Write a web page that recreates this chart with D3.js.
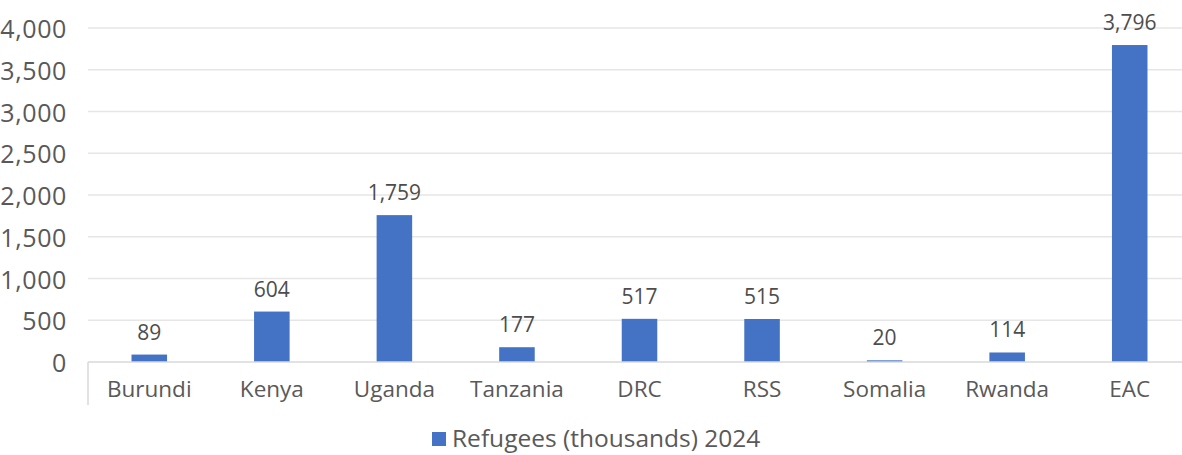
<!DOCTYPE html>
<html><head><meta charset="utf-8">
<script src="https://cdn.jsdelivr.net/npm/d3@7"></script>
<style>body{margin:0;background:#fff;}svg{display:block;font-family:"Open Sans",sans-serif;}</style>
</head><body>
<svg id="c" width="1182" height="455"></svg>
<script>
const categories = ["Burundi","Kenya","Uganda","Tanzania","DRC","RSS","Somalia","Rwanda","EAC"];
const values = [89,604,1759,177,517,515,20,114,3796];
const yTicks = [0,500,1000,1500,2000,2500,3000,3500,4000];
const seriesName = "Refugees (thousands) 2024";

(function(){
const svg = d3.select("#c");
const mLeft = 88, mRight = 1191, mTop = 28, mBottom = 362;
const x = d3.scaleBand().domain(categories).range([mLeft, mRight]).paddingInner(0.71).paddingOuter(0.355);
const y = d3.scaleLinear().domain([0,4000]).range([mBottom, mTop]);
const fmt = d3.format(",");

// gridlines
svg.append("g").selectAll("line").data(yTicks.filter(d=>d>0)).join("line")
  .attr("x1", mLeft).attr("x2", mRight)
  .attr("y1", d=>y(d)).attr("y2", d=>y(d))
  .attr("stroke", "#e6e6e6").attr("stroke-width", 1.3);

// y labels
const yAxis = d3.axisLeft(y).tickValues(yTicks).tickFormat(fmt).tickSize(0).tickPadding(0);
const ya = svg.append("g").attr("transform", `translate(67,0)`).call(yAxis);
ya.select(".domain").remove();
ya.selectAll("text").attr("fill","#595959").style("font-size","25px").style("font-family","'Open Sans',sans-serif").attr("dy","0.38em").attr("letter-spacing","0.6px");

// bars
svg.append("g").selectAll("rect").data(values).join("rect")
  .attr("x", (d,i)=>x(categories[i]))
  .attr("width", x.bandwidth())
  .attr("y", d=>y(d))
  .attr("height", d=>mBottom - y(d))
  .attr("fill", "#4472C4");

// data labels
svg.append("g").selectAll("text").data(values).join("text")
  .attr("x", (d,i)=>x(categories[i]) + x.bandwidth()/2)
  .attr("y", d=>y(d) - 15)
  .attr("text-anchor","middle")
  .attr("fill","#4d4d4d")
  .style("font-size","21px")
  .text(d=>fmt(d));

// x axis
const xAxis = d3.axisBottom(x).tickSize(0).tickPadding(0);
const xa = svg.append("g").attr("transform", `translate(0,${mBottom})`).call(xAxis);
xa.select(".domain").remove();
xa.selectAll("text").attr("fill","#595959").style("font-size","22.5px").style("font-family","'Open Sans',sans-serif").attr("dy","0").attr("y", 35);
svg.append("line").attr("x1", mLeft).attr("x2", mRight).attr("y1", mBottom).attr("y2", mBottom).attr("stroke","#d9d9d9").attr("stroke-width",1.5);
svg.append("line").attr("x1", mLeft).attr("x2", mLeft).attr("y1", mBottom).attr("y2", 405).attr("stroke","#d9d9d9").attr("stroke-width",1.5);

// legend
const lg = svg.append("g");
lg.append("rect").attr("x", 432).attr("y", 432).attr("width", 14).attr("height", 14).attr("fill", "#4472C4");
lg.append("text").attr("x", 452).attr("y", 447).attr("fill","#595959").style("font-size","24.5px").text(seriesName);
})();
</script>
</body></html>
